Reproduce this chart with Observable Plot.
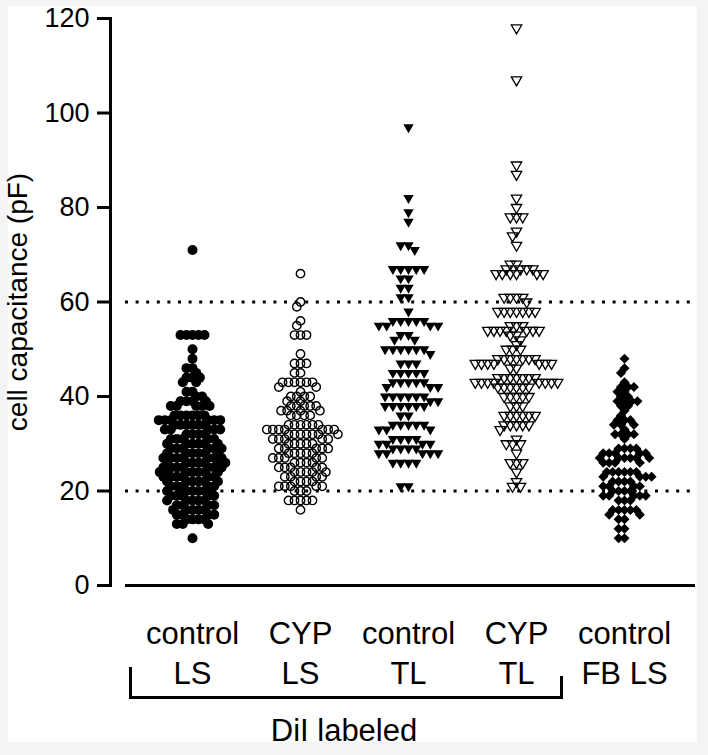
<!DOCTYPE html>
<html><head><meta charset="utf-8">
<script src="https://cdn.jsdelivr.net/npm/d3@7"></script>
<script src="https://cdn.jsdelivr.net/npm/@observablehq/plot@0.6"></script>
<style>
html,body{margin:0;padding:0;background:#f4f4f4;width:708px;height:755px;overflow:hidden;}
#panel{position:absolute;left:8px;top:6px;width:689px;height:736px;background:#fff;}
svg.layer{position:absolute;left:0;top:0;}
.br{position:absolute;background:#000;}
#dil{position:absolute;left:194px;top:715px;width:300px;text-align:center;font:31px "Liberation Sans",Arial,sans-serif;line-height:31px;color:#000;}
</style></head><body><div id="panel"></div>
<script>
const groups = ["control LS", "CYP LS", "control TL", "CYP TL", "control FB LS"];
const tickLabels = ["control\nLS", "CYP\nLS", "control\nTL", "CYP\nTL", "control\nFB LS"];
const yTicks = [0, 20, 40, 60, 80, 100, 120];
const refLines = [20, 60];
const yLabel = "cell capacitance (pF)";
const bracketLabel = "DiI labeled";

const controlLS = [71,
 53,53,53,53,53, 50, 48, 46,46, 45, 44,44,44, 43,43, 41,41, 40,40,
 39,39,39,39, 38,38,38,38,38, 36,36,36,36,36,36, 35,35,35,35,35,35,
 34,34,34,34,34,34, 33,33,33,33,33, 32,32,32,32, 31,31,31,31,31,
 30,30,30,30,30,30, 29,29,29,29,29,29, 28,28,28,28,28,28,
 27,27,27,27,27,27,27, 26,26,26,26,26,26,26, 25,25,25,25,25,25,25,
 24,24,24,24,24,24,24, 23,23,23,23,23,23, 22,22,22,22,22,22,
 21,21,21,21,21, 20,20,20,20,20, 19,19,19,19,19, 18,18,18,18,18,
 17,17,17,17, 16,16,16,16,16, 15,15,15,15, 14,14,14,14, 13,13,13, 10];
const cypLS = [66, 60, 59, 56, 55, 53,53,53, 49, 47,47,47, 45,45,
 43,43,43,43,43,43, 42,42, 41, 40,40,40,40, 39,39, 38,38,38,38,38,
 37,37,37,37, 36,36,36,36, 34,34,34,34,34,34, 33,33,33,33,33,33,33,
 32,32,32,32,32,32,32, 31,31,31,31,31, 30,30,30,30,30, 29,29,29,29,29,
 28,28,28,28,28, 27,27,27,27,27, 26,26,26,26, 25,25,25,25,25,
 24,24,24,24,24, 23,23,23,23, 22,22,22,22, 21,21,21,21,21, 20,20,20,
 18,18,18,18,18, 16];
const controlTL = [97, 82, 79, 77, 72,72, 71, 67,67,67,67,67, 65,65, 63,63, 61,61,
 58, 56,56,56,56,56, 55,55,55,55, 53,53, 52,52, 50,50,50,50,50,50, 49,
 47,47,47, 45,45,45,45,45, 43,43,43,43,43, 42,42,42, 40,40,40,40,40,40,
 39,39, 38,38,38,38,38,38, 36,36, 34,34,34,34,34, 33,33,33, 31,31,31,31,
 30,30,30,30, 29,29,29,29, 28,28,28,28,28, 26,26,26,26, 21,21];
const cypTL = [118, 107, 89, 87, 82, 80, 78,78,78, 75, 74, 72, 68,68, 67,67,67,67,
 66,66,66,66,66,66, 61,61,61,61, 60, 58,58,58,58,58,58,58, 55,55,55,
 54,54,54,54,54,54,54, 53,53, 52, 51, 50,50,50, 48,48,48,48,48,48,48,
 47,47,47,47,47,47,47, 46,46, 44,44,44,44,44,44,44, 43,43,43,43,43,43,43,43,
 42,42,42,42,42,42, 40,40,40,40,40, 38,38,38, 36,36,36,36,36,36,
 34,34,34,34,34, 33, 31, 30,30,30, 28, 26,26,26, 24, 22, 21,21];
const controlFBLS = [48, 46, 45, 43, 42,42,42, 41,41, 40,40, 39,39,39,39, 38,38, 37, 36,
 35,35,35, 34,34,34, 33, 32,32,32,32, 31, 29,29,29,29, 28,28,28,28,28,
 27,27,27,27,27,27, 26,26,26,26, 24,24,24,24,24,24, 23,23,23,23, 22,22,22,22,
 21,21,21,21, 20,20,20,20, 19,19,19,19,19, 18,18,18, 16,16,16,16,16, 15,15, 14,14, 12,12, 10,10];
const series = [controlLS, cypLS, controlTL, cypTL, controlFBLS];

const rowsFor = i => series[i].map(v => ({group: groups[i], value: v}));

// symbol shapes (visual size scaled from the dodge radius)
const circleSym = k => ({draw(ctx, size) {const r = Math.sqrt(size / Math.PI) * k; ctx.moveTo(r, 0); ctx.arc(0, 0, r, 0, 2 * Math.PI);}});
const triDownSym = k => ({draw(ctx, size) {const R = Math.sqrt(size / Math.PI) * k, h = R * Math.sqrt(3) / 2; ctx.moveTo(0, R); ctx.lineTo(-h, -R / 2); ctx.lineTo(h, -R / 2); ctx.closePath();}});
const diamondSym = k => ({draw(ctx, size) {const a = Math.sqrt(size / Math.PI) * k; ctx.moveTo(0, -a); ctx.lineTo(a, 0); ctx.lineTo(0, a); ctx.lineTo(-a, 0); ctx.closePath();}});

const dims = {width: 708, height: 755, marginLeft: 110, marginTop: 18, marginRight: 13, marginBottom: 170};
const font = {fontFamily: "'Liberation Sans', Arial, sans-serif", background: "transparent", color: "black", overflow: "visible"};

// layer 1: axes, reference lines, y label
const axesLayer = Plot.plot({
  ...dims, style: font,
  y: {domain: [0, 120]},
  marks: [
    Plot.ruleY(refLines, {stroke: "black", strokeWidth: 3, strokeDasharray: "3 7.6", insetLeft: 15}),
    Plot.ruleY([0], {stroke: "black", strokeWidth: 3, insetLeft: 15}),
    Plot.frame({anchor: "left", stroke: "black", strokeWidth: 3}),
    Plot.axisY({ticks: yTicks, tickSize: 13, tickPadding: 8, fontSize: 27, strokeWidth: 3, label: null}),
    Plot.text([yLabel], {frameAnchor: "left", textAnchor: "middle", rotate: -90, dx: -92, fontSize: 28})
  ]
});

// layer 2: the faceted swarms and group labels
const dotsLayer = Plot.plot({
  ...dims, style: font,
  y: {domain: [0, 120], axis: null},
  fx: {domain: groups, paddingInner: 0.3, paddingOuter: 0.351, align: 0.57},
  marks: [
    Plot.axisFx({anchor: "bottom", tickSize: 0, tickPadding: 31, fontSize: 31, lineHeight: 1.27, label: null,
      tickFormat: d => tickLabels[groups.indexOf(d)]}),
    Plot.dot(rowsFor(0), Plot.dodgeX("middle", {fx: "group", y: "value", r: 2.5, padding: 0.5, symbol: circleSym(2.0), fill: "black", stroke: "none"})),
    Plot.dot(rowsFor(1), Plot.dodgeX("middle", {fx: "group", y: "value", r: 2.5, padding: 0.5, symbol: circleSym(1.68), fill: "none", stroke: "black", strokeWidth: 1.4})),
    Plot.dot(rowsFor(2), Plot.dodgeX("middle", {fx: "group", y: "value", r: 3.4, padding: 0.5, symbol: triDownSym(1.76), fill: "black", stroke: "none"})),
    Plot.dot(rowsFor(3), Plot.dodgeX("middle", {fx: "group", y: "value", r: 2.6, padding: 0.4, symbol: triDownSym(2.3), fill: "none", stroke: "black", strokeWidth: 1.3})),
    Plot.dot(rowsFor(4), Plot.dodgeX("middle", {fx: "group", y: "value", r: 2.45, padding: 0.5, symbol: diamondSym(2.05), fill: "black", stroke: "none"}))
  ]
});
axesLayer.classList.add("layer");
dotsLayer.classList.add("layer");
document.body.appendChild(axesLayer);
document.body.appendChild(dotsLayer);
// bracket grouping the DiI labeled columns
[[129, 667, 3, 32], [129, 696, 434, 3], [560, 676, 3, 23]].forEach(([l, t, w, h]) => {
  const d = document.createElement("div"); d.className = "br";
  Object.assign(d.style, {left: l + "px", top: t + "px", width: w + "px", height: h + "px"});
  document.body.appendChild(d);
});
const dil = document.createElement("div"); dil.id = "dil"; dil.textContent = bracketLabel; document.body.appendChild(dil);
</script></body></html>
